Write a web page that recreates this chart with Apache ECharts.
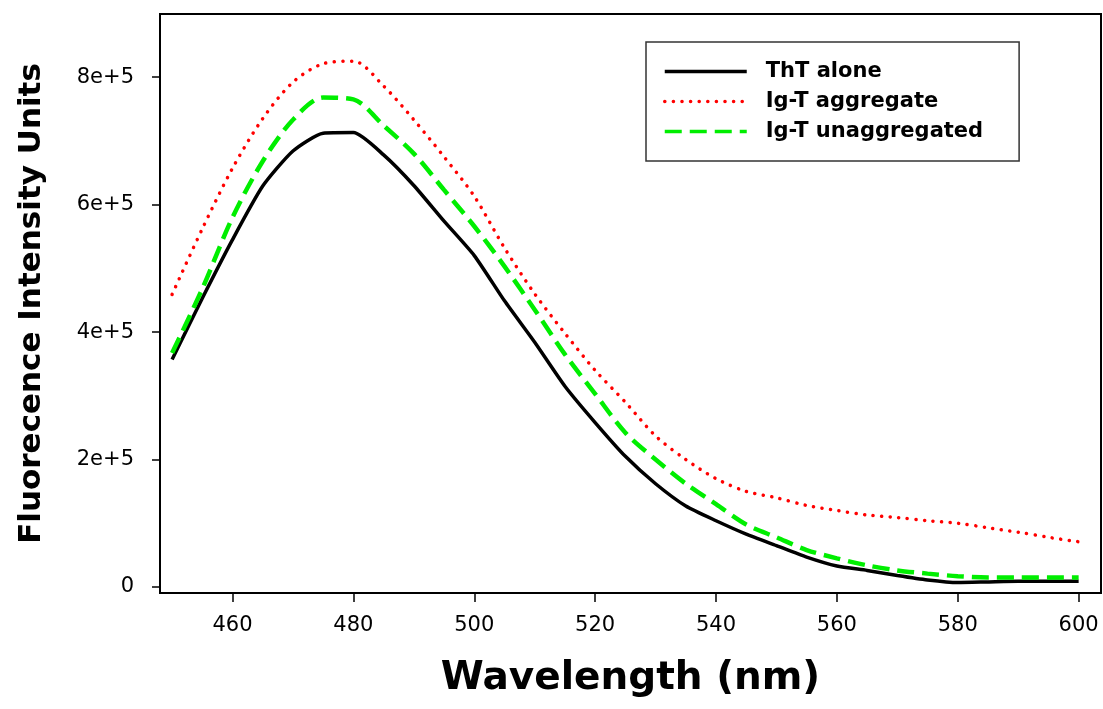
<!DOCTYPE html>
<html lang="en">
<head>
    <meta charset="UTF-8">
    <title>ThT fluorescence</title>
    <script src="https://cdn.jsdelivr.net/npm/echarts@6/dist/echarts.min.js"></script>
    <style>
        html, body { margin: 0; padding: 0; background: #fff; }
        #chart { width: 1103px; height: 709px; }
    </style>
</head>
<body>
    <div id="chart"></div>
    <script>
        // wavelengths (nm), every 5 nm
        var wavelengths = [450, 455, 460, 465, 470, 475, 480, 485, 490, 495, 500, 505, 510, 515, 520,
            525, 530, 535, 540, 545, 550, 555, 560, 565, 570, 575, 580, 585, 590, 595, 600];
        var thtAlone = [357000, 453000, 545000, 629000, 684000, 712000, 713000, 678000, 630000, 574000, 520000,
            449000, 384000, 315000, 258000, 205000, 162000, 127000, 104000, 83000, 65000, 47000, 33000,
            26000, 18000, 11000, 7000, 8000, 9000, 9000, 9000];
        var igtAggregate = [459000, 562000, 657000, 735000, 792000, 821000, 825000, 786000, 733000, 675000, 613000,
            532000, 460000, 398000, 340000, 290000, 237000, 200000, 170000, 150000, 140000, 128000, 120000,
            113000, 109000, 104000, 100000, 93000, 86000, 78000, 71000];
        var igtUnaggregated = [367000, 468000, 580000, 668000, 733000, 768000, 765000, 724000, 680000, 623000, 566000,
            503000, 435000, 365000, 303000, 242000, 200000, 162000, 130000, 98000, 78000, 58000, 45000,
            34000, 26000, 21000, 17000, 15000, 15000, 15000, 15000];
        var xTicks = [460, 480, 500, 520, 540, 560, 580, 600];
        var yTicks = [0, 200000, 400000, 600000, 800000];

        function pairs(vals) {
            var out = [];
            for (var i = 0; i < wavelengths.length; i++) {
                out.push([wavelengths[i], vals[i]]);
            }
            return out;
        }

        var myChart = echarts.init(document.getElementById('chart'));
        var option = {
            animation: false,
            textStyle: { fontFamily: 'DejaVu Sans' },
            grid: {
                left: 160, right: 2, top: 14, bottom: 116,
                show: true, borderColor: '#000', borderWidth: 2
            },
            legend: {
                left: 646, top: 42,
                orient: 'vertical',
                itemWidth: 82, itemHeight: 14, itemGap: 9,
                padding: [19, 36, 19, 17],
                borderColor: '#333', borderWidth: 1.5,
                backgroundColor: '#fff',
                itemStyle: { opacity: 0 },
                lineStyle: { width: 3.5 },
                textStyle: {
                    fontSize: 21, fontWeight: 'bold', color: '#000', fontFamily: 'DejaVu Sans',
                    padding: [0, 0, 0, 14]
                },
                data: ['ThT alone', 'Ig-T aggregate', 'Ig-T unaggregated']
            },
            xAxis: {
                type: 'value',
                min: 448, max: 603.7,
                name: 'Wavelength (nm)',
                nameLocation: 'middle',
                nameGap: 66,
                nameTextStyle: { fontSize: 39, fontWeight: 'bold', color: '#000' },
                axisLine: { show: true, onZero: false, lineStyle: { color: '#000', width: 2 } },
                axisTick: { show: true, length: 9, customValues: xTicks, lineStyle: { color: '#000', width: 1.5 } },
                axisLabel: { customValues: xTicks, fontSize: 21, color: '#000', margin: 22 },
                splitLine: { show: false }
            },
            yAxis: {
                type: 'value',
                min: -9400, max: 899000,
                name: 'Fluorecence Intensity Units',
                nameLocation: 'middle',
                nameGap: 113,
                nameTextStyle: { fontSize: 31, fontWeight: 'bold', color: '#000' },
                axisLine: { show: true, lineStyle: { color: '#000', width: 2 } },
                axisTick: { show: true, length: 8, customValues: yTicks, lineStyle: { color: '#000', width: 1.5 } },
                axisLabel: {
                    customValues: yTicks, fontSize: 21, color: '#000', margin: 26,
                    formatter: function (v) { return v === 0 ? '0' : (v / 100000) + 'e+5'; }
                },
                splitLine: { show: false }
            },
            series: [{
                name: 'ThT alone',
                type: 'line',
                symbol: 'none',
                smooth: 0.2,
                lineStyle: { color: '#000', width: 3.5 },
                itemStyle: { color: '#000' },
                z: 3,
                data: pairs(thtAlone)
            }, {
                name: 'Ig-T aggregate',
                type: 'line',
                symbol: 'none',
                smooth: 0.3,
                lineStyle: { color: '#ff0000', width: 3.5, type: [0.1, 8.5], cap: 'round' },
                itemStyle: { color: '#ff0000' },
                data: pairs(igtAggregate)
            }, {
                name: 'Ig-T unaggregated',
                type: 'line',
                symbol: 'none',
                smooth: 0.3,
                lineStyle: { color: '#00ee00', width: 4.5, type: [17, 8] },
                itemStyle: { color: '#00ee00' },
                data: pairs(igtUnaggregated)
            }]
        };
        myChart.setOption(option);
    </script>
</body>
</html>
